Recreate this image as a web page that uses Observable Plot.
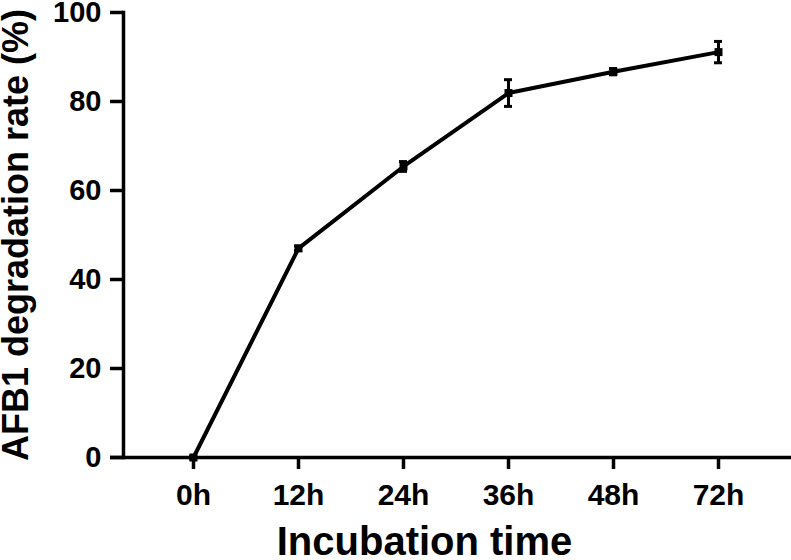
<!DOCTYPE html>
<html>
<head>
<meta charset="utf-8">
<script src="https://cdn.jsdelivr.net/npm/d3@7"></script>
<script src="https://cdn.jsdelivr.net/npm/@observablehq/plot@0.6"></script>
<style>
  body { margin: 0; background: #fff; }
  #chart svg { font-family: "Liberation Sans", Arial, sans-serif; }
</style>
</head>
<body>
<div id="chart"></div>
<script>
const times = ["0h", "12h", "24h", "36h", "48h", "72h"];
const rates = [0, 47.0, 65.4, 81.9, 86.7, 91.1];
const errors = [0.3, 0.5, 1.1, 3.0, 0.7, 2.4];
const yTicks = [0, 20, 40, 60, 80, 100];
const xTitle = "Incubation time";
const yTitle = "AFB1 degradation rate (%)";

const data = times.map((t, i) => ({t, v: rates[i], lo: rates[i] - errors[i], hi: rates[i] + errors[i]}));
const font = {fontFamily: "Liberation Sans, Arial, sans-serif", fontWeight: "bold"};

const chart = Plot.plot({
  width: 791,
  height: 560,
  marginLeft: 123,
  marginRight: 0,
  marginTop: 12,
  marginBottom: 103,
  style: {fontFamily: "Liberation Sans, Arial, sans-serif", color: "#000", background: "#fff"},
  x: {type: "point", domain: times, range: [192, 718], padding: 0},
  y: {domain: [0, 100], range: [457, 12]},
  marks: [
    Plot.axisY({ticks: yTicks, tickSize: 13, tickPadding: 9, strokeWidth: 3.5, fontSize: 29, fontWeight: "bold", label: null}),
    Plot.axisX({tickSize: 12, tickPadding: 14, strokeWidth: 3.5, fontSize: 30, fontWeight: "bold", label: null}),
    Plot.frame({anchor: "left", strokeWidth: 3.5}),
    Plot.ruleY([0], {strokeWidth: 3.5, insetLeft: -13}),
    Plot.line(data, {x: "t", y: "v", strokeWidth: 4, stroke: "#000"}),
    Plot.ruleX(data, {x: "t", y1: "lo", y2: "hi", strokeWidth: 3, stroke: "#000"}),
    Plot.ruleY(data, {y: "hi", x1: "t", x2: "t", insetLeft: -4, insetRight: -4, strokeWidth: 3, stroke: "#000"}),
    Plot.ruleY(data, {y: "lo", x1: "t", x2: "t", insetLeft: -4, insetRight: -4, strokeWidth: 3, stroke: "#000"}),
    Plot.dot(data, {x: "t", y: "v", symbol: "square", r: 4.5, fill: "#000", stroke: "none"}),
    Plot.text([yTitle], {frameAnchor: "left", textAnchor: "middle", lineAnchor: "middle", dx: -107, rotate: -90, fontSize: 36, ...font, fill: "#000", ariaLabel: "ytitle"}),
    Plot.text([xTitle], {frameAnchor: "bottom", textAnchor: "middle", lineAnchor: "middle", dy: 85, dx: -33, fontSize: 40, ...font, fill: "#000", ariaLabel: "xtitle"})
  ]
});
document.getElementById("chart").appendChild(chart);
d3.select(chart).select('g[aria-label="xtitle"] text').attr("textLength", 297).attr("lengthAdjust", "spacingAndGlyphs");
d3.select(chart).select('g[aria-label="ytitle"] text').attr("textLength", 460).attr("lengthAdjust", "spacingAndGlyphs");
</script>
</body>
</html>
